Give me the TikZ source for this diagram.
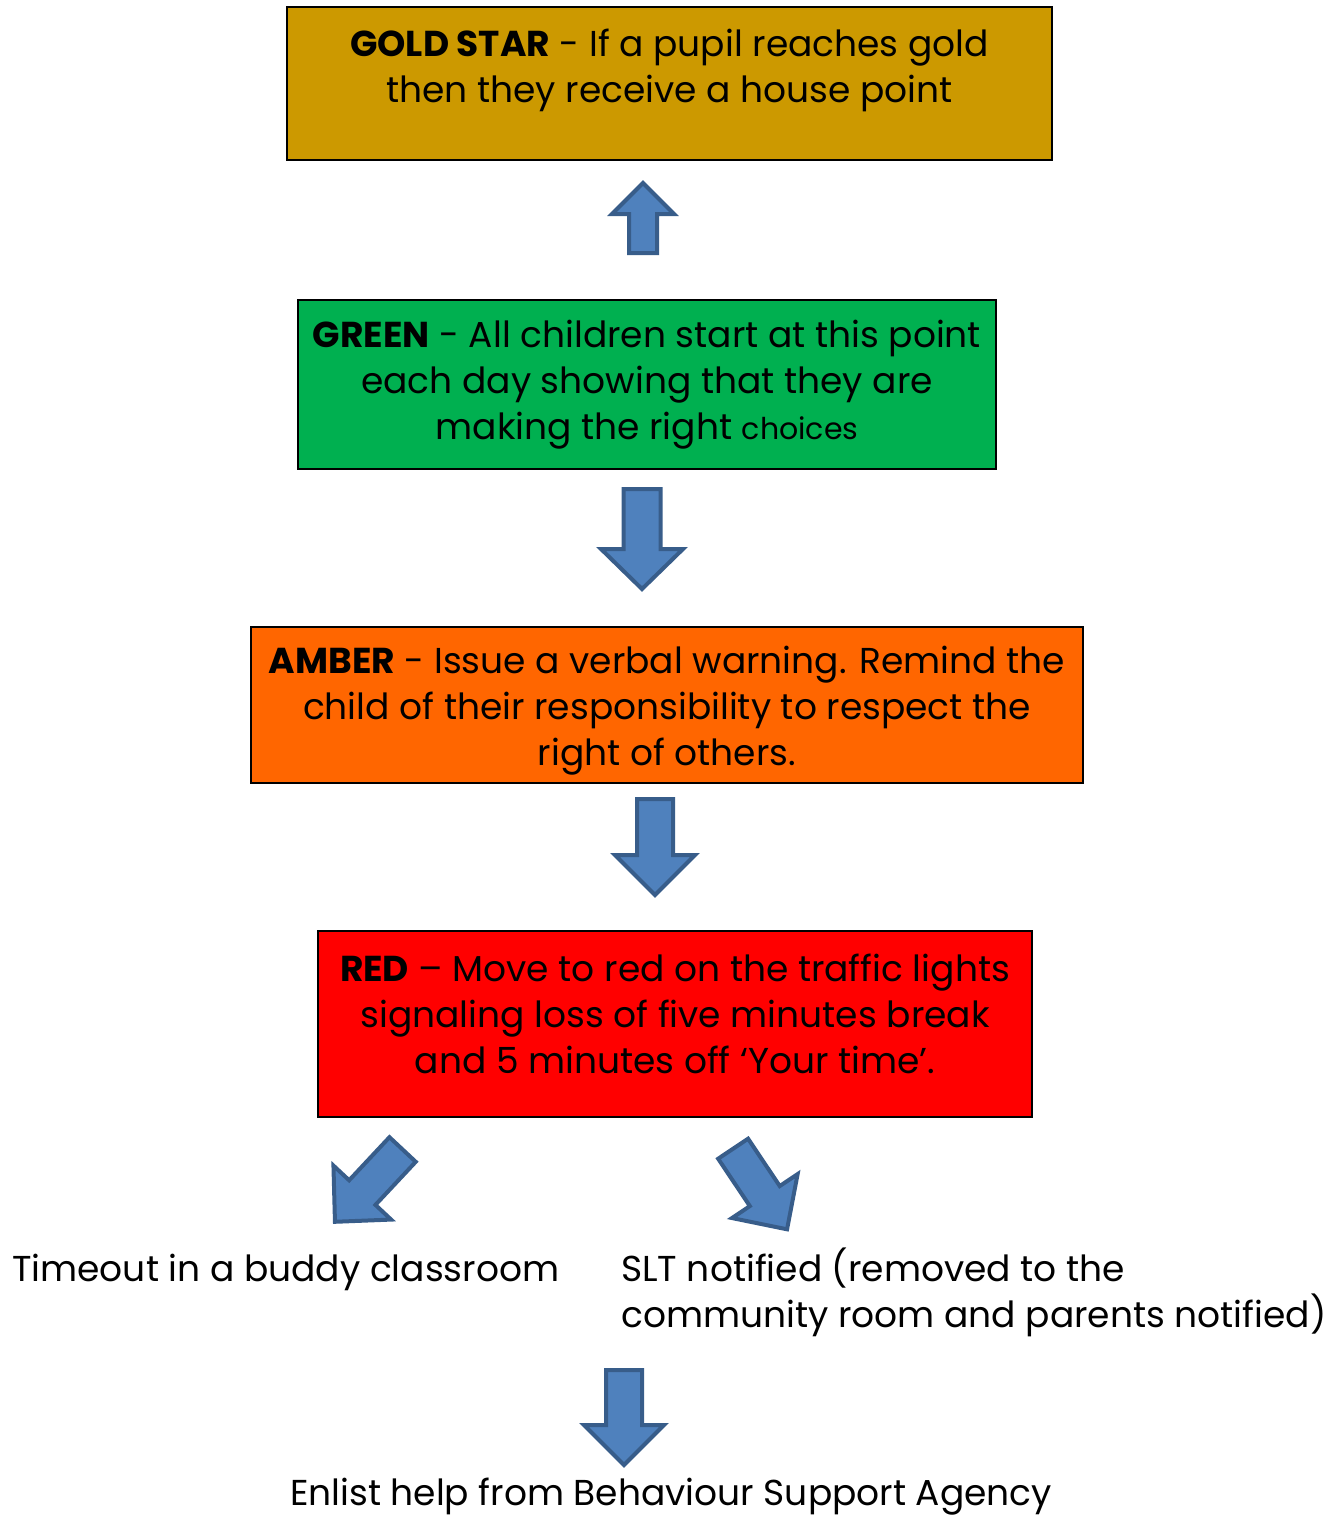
\documentclass[tikz,border=0pt]{standalone}
\usepackage{fontspec}
\setmainfont{Poppins}
\definecolor{goldfill}{HTML}{CC9900}
\definecolor{greenfill}{HTML}{00B050}
\definecolor{amberfill}{HTML}{FF6600}
\definecolor{redfill}{HTML}{FF0000}
\definecolor{arrowfill}{HTML}{4F81BD}
\definecolor{arrowdraw}{HTML}{385D8A}
\tikzset{
  box/.style={draw=black, line width=2pt, inner sep=0pt},
  boxtext/.style={align=center, inner sep=0pt, font=\fontsize{36}{46}\selectfont},
  plain/.style={inner sep=0pt, font=\fontsize{36}{46}\selectfont},
  barrowstyle/.style={fill=arrowfill, draw=arrowdraw, line width=4pt, line join=miter},
  pics/barrow/.style n args={4}{code={
    \draw[barrowstyle] (0,-#2/2) -- (#1-#4,-#2/2) -- (#1-#4,-#3/2) -- (#1,0)
      -- (#1-#4,#3/2) -- (#1-#4,#2/2) -- (0,#2/2) -- cycle;}}
}
\begin{document}
\begin{tikzpicture}[x=1pt,y=1pt]
\useasboundingbox (0,0) rectangle (1337,-1518);
% boxes
\node[box, fill=goldfill, minimum width=765pt, minimum height=153pt] (gold) at (669.5,-83.5) {};
\node[boxtext] (goldtext) at ([yshift=13pt]gold.center)
  {\textbf{GOLD STAR} - If a pupil reaches gold\\then they receive a house point};
\node[box, fill=greenfill, minimum width=698pt, minimum height=169pt] (green) at (647,-384.5) {};
\node[boxtext] (greentext) at (green.center)
  {\textbf{GREEN} - All children start at this point\\each day showing that they are\\making the right {\fontsize{30}{46}\selectfont choices}};
\node[box, fill=amberfill, minimum width=832pt, minimum height=156pt] (amber) at (667,-705) {};
\node[boxtext] (ambertext) at ([yshift=-6pt]amber.center)
  {\textbf{AMBER} - Issue a verbal warning. Remind the\\child of their responsibility to respect the\\right of others.};
\node[box, fill=redfill, minimum width=714pt, minimum height=186pt] (red) at (675,-1024) {};
\node[boxtext] (redtext) at ([yshift=10pt]red.center)
  {\textbf{RED} – Move to red on the traffic lights\\signaling loss of five minutes break\\and 5 minutes off ‘Your time’.};
% free texts
\node[plain, anchor=base west] (timeout) at (12,-1281) {Timeout in a buddy classroom};
\node[plain, anchor=north west, align=left] (slt) at (621,-1248)
  {SLT notified (removed to the\\community room and parents notified)};
\node[plain, anchor=base] (enlist) at (671,-1505) {Enlist help from Behaviour Support Agency};
% block arrows
\pic[rotate=90] at (643,-253) {barrow={70}{28}{62}{31}};
\pic[rotate=-90] at (642,-489) {barrow={100}{37}{82}{40}};
\pic[rotate=-90] at (655,-799) {barrow={96}{36}{80}{40}};
\pic[rotate=226.9] at (402.6,-1149.5) {barrow={99}{36}{79}{40}};
\pic[rotate=-56.2] at (733.1,-1148.7) {barrow={97}{36}{79}{40}};
\pic[rotate=-90] at (624,-1370) {barrow={95}{36}{80}{40}};
\end{tikzpicture}
\end{document}
